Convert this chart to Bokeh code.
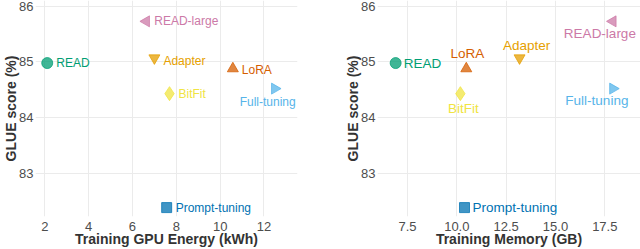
import math
from bokeh.plotting import figure
from bokeh.layouts import row
from bokeh.models import FixedTicker
from bokeh.core.properties import value
from bokeh.embed import file_html
from bokeh.resources import INLINE

# ---- data ----
methods = ["READ", "READ-large", "Adapter", "LoRA", "BitFit", "Full-tuning", "Prompt-tuning"]
glue_score = [84.98, 85.73, 85.07, 84.88, 84.43, 84.52, 82.38]
gpu_energy_kwh = [2.11, 6.63, 7.00, 10.58, 7.69, 12.49, 7.56]
train_memory_gb = [6.90, 17.91, 13.18, 10.48, 10.18, 17.91, 10.39]

energy_ticks = [2, 4, 6, 8, 10, 12]
energy_tick_labels = ["2", "4", "6", "8", "10", "12"]
memory_ticks = [7.5, 10, 12.5, 15, 17.5]
memory_tick_labels = ["7.5", "10.0", "12.5", "15.0", "17.5"]
glue_ticks = [83, 84, 85, 86]
glue_tick_labels = ["83", "84", "85", "86"]

# ---- styles ----
colors = {
    "READ": "#009E73", "READ-large": "#CC79A7", "Adapter": "#E69F00",
    "LoRA": "#D55E00", "BitFit": "#F0E442", "Full-tuning": "#56B4E9",
    "Prompt-tuning": "#0072B2",
}
marker_style = {  # marker, angle, size
    "READ": ("circle", 0, 11),
    "READ-large": ("triangle", math.pi / 2, 11),
    "Adapter": ("inverted_triangle", 0, 11),
    "LoRA": ("triangle", 0, 11),
    "BitFit": ("diamond", 0, 14),
    "Full-tuning": ("triangle", -math.pi / 2, 11),
    "Prompt-tuning": ("square", 0, 10),
}
# label placement (dx, dy in px, align)
left_labels = {
    "READ": (9, 0, "left"), "READ-large": (8, 0, "left"), "Adapter": (9, 3, "left"),
    "LoRA": (9, 1, "left"), "BitFit": (9, 0, "left"), "Full-tuning": (-7, 13, "center"),
    "Prompt-tuning": (9, 0, "left"),
}
right_labels = {
    "READ": (8, 0, "left"), "READ-large": (-13, 12, "center"), "Adapter": (7, -13, "center"),
    "LoRA": (1, -15, "center"), "BitFit": (3, 15, "center"), "Full-tuning": (-16, 12, "center"),
    "Prompt-tuning": (8, 0, "left"),
}

FONT = "Liberation Sans"
Y_RANGE = (82.22, 86.105)


def make_fig(xvals, xlabel, xr, xticks, xtlabels, labels, fsize, width, mbl, mbr):
    p = figure(width=width, height=249, x_range=xr, y_range=Y_RANGE,
               output_backend="svg", toolbar_location=None,
               min_border_left=mbl, min_border_right=mbr,
               min_border_top=0, min_border_bottom=0)
    p.outline_line_color = None
    p.background_fill_color = "white"
    p.border_fill_color = "white"
    p.xaxis.ticker = FixedTicker(ticks=xticks)
    p.xaxis.major_label_overrides = {t: l for t, l in zip(xticks, xtlabels)}
    p.yaxis.ticker = FixedTicker(ticks=glue_ticks)
    p.yaxis.major_label_overrides = {t: l for t, l in zip(glue_ticks, glue_tick_labels)}
    p.xaxis.axis_label = xlabel
    p.yaxis.axis_label = "GLUE score (%)"
    for ax in (p.xaxis, p.yaxis):
        ax.axis_line_color = None
        ax.major_tick_line_color = None
        ax.minor_tick_line_color = None
        ax.major_tick_out = 0
        ax.major_tick_in = 0
        ax.major_label_text_font = FONT
        ax.major_label_text_font_size = "13px"
        ax.major_label_text_color = "#4d4d4d"
        ax.axis_label_text_font = FONT
        ax.axis_label_text_font_size = "14px"
        ax.axis_label_text_font_style = "bold"
        ax.axis_label_text_color = "#333333"
    p.xaxis.major_label_standoff = 5
    p.xaxis.axis_label_standoff = -3
    p.yaxis.major_label_standoff = 2
    p.yaxis.axis_label_standoff = -3
    p.grid.grid_line_color = "#ebebeb"
    p.grid.grid_line_width = 1
    p.xgrid.ticker = FixedTicker(ticks=xticks)
    p.ygrid.ticker = FixedTicker(ticks=glue_ticks)

    for name, xv, yv in zip(methods, xvals, glue_score):
        mk, ang, sz = marker_style[name]
        c = colors[name]
        p.scatter(x=[xv], y=[yv], marker=mk, angle=ang, size=sz,
                  fill_color=c, fill_alpha=0.75, line_color=c, line_alpha=0.75)
        dx, dy, al = labels[name]
        p.text(x=[xv], y=[yv], text=[name], x_offset=dx, y_offset=dy,
               text_align=al, text_baseline="middle",
               text_font=value(FONT), text_font_size=value(f"{fsize}px"),
               text_color=c)
    return p


p1 = make_fig(gpu_energy_kwh, "Training GPU Energy (kWh)", (1.575, 13.53),
              energy_ticks, energy_tick_labels, left_labels, 12, 320, 33, 23)
p2 = make_fig(train_memory_gb, "Training Memory (GB)", (5.98, 19.31),
              memory_ticks, memory_tick_labels, right_labels, 13.5, 320, 57, 0)

layout = row(p1, p2)
open("out.html", "w").write(file_html(layout, INLINE))
